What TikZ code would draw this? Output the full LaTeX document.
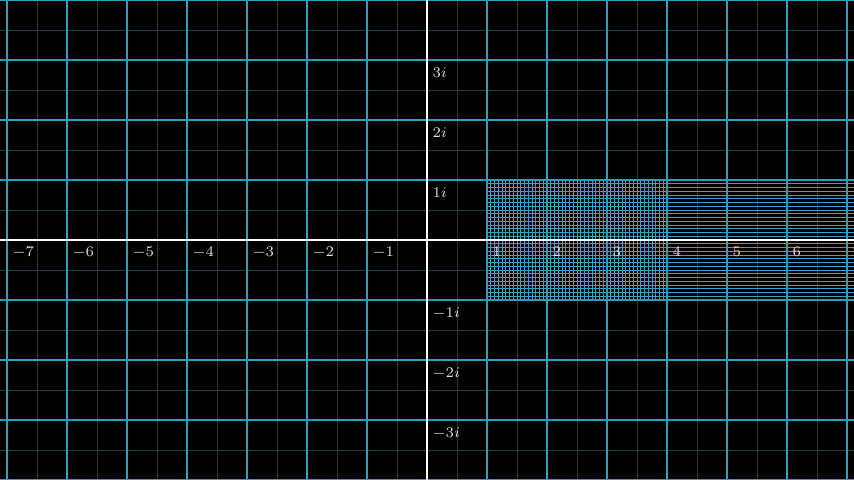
\documentclass[tikz,border=0pt]{standalone}
\usepackage{amsmath}
\usepackage{tikz}
\usetikzlibrary{calc}

\definecolor{gridmajor}{RGB}{42,160,192}
\definecolor{gridminor}{RGB}{20,62,70}
\definecolor{gridfine}{RGB}{66,160,190}
\definecolor{labelgrey}{RGB}{225,225,225}

\tikzset{
    majorline/.style={draw=gridmajor, line width=0.9pt},
    minorline/.style={draw=gridminor, line width=0.4pt},
    fineline/.style={draw=gridfine, line width=0.33pt},
    axisline/.style={draw=white, line width=1.2pt},
    ticklabel/.style={text=labelgrey, font=\fontsize{6.8}{8}\selectfont, inner sep=1pt}
}

\begin{document}
\begin{tikzpicture}

    \coordinate (SW) at (-7.1167, -4);
    \coordinate (NE) at (7.1167, 4);
    \coordinate (O) at (0,0);

    \useasboundingbox (SW) rectangle (NE);
    \fill[black] (SW) rectangle (NE);
    \clip (SW) rectangle (NE);

    % half-unit lines
    \foreach \x in {-7.5,-6.5,...,7.5}
        \draw[minorline] (\x,-4) -- (\x,4);
    \foreach \y in {-4.5,-3.5,...,4.5}
        \draw[minorline] (-7.2,\y) -- (7.2,\y);

    % dense patch right of 1
    \foreach \k in {1,...,47}
        \draw[fineline] ({1+\k/16},-1) -- ({1+\k/16},1);
    \foreach \k in {1,...,31}
        \draw[fineline] (1,{-1+\k/16}) -- (7.2,{-1+\k/16});

    % unit lines
    \foreach \x in {-7,...,7}
        \draw[majorline] (\x,-4) -- (\x,4);
    \foreach \y in {-4,...,4}
        \draw[majorline] (-7.2,\y) -- (7.2,\y);

    \draw[axisline] (-7.2,0) -- (7.2,0);
    \draw[axisline] (0,-4) -- (0,4);

    \foreach \x in {-7,...,-1,1,2,...,7}
        \node[ticklabel, anchor=north west] (xl\x) at ($(\x,0)+(0.05,-0.08)$) {$\x$};
    \foreach \y in {-3,...,-1,1,2,3}
        \node[ticklabel, anchor=north west] (yl\y) at ($(0,\y)+(0.05,-0.08)$) {$\y i$};

\end{tikzpicture}
\end{document}
